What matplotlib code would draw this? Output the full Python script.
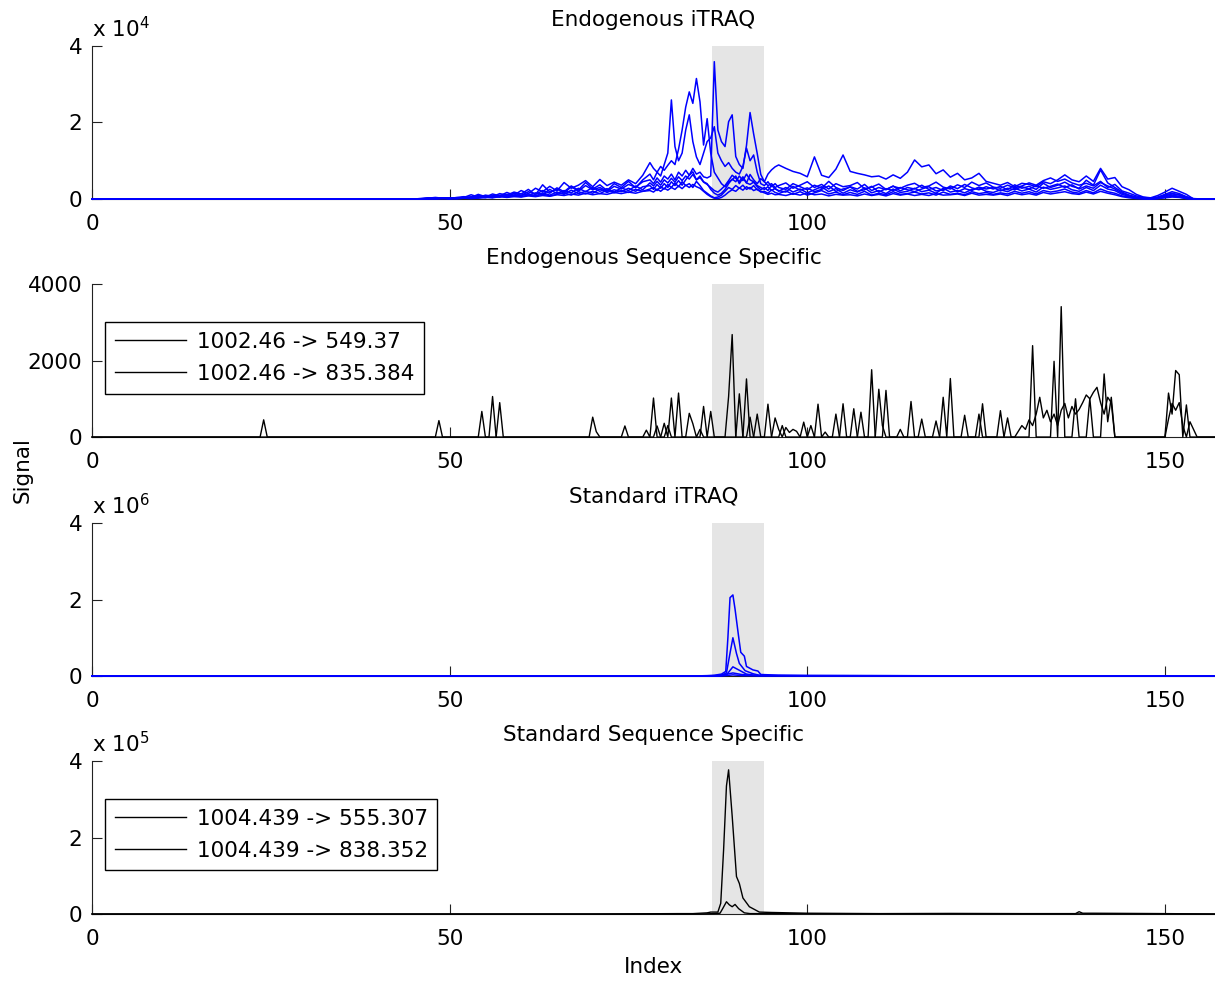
import numpy as np
import matplotlib
matplotlib.use("Agg")
import matplotlib.pyplot as plt

plt.rcParams['font.family'] = ['DejaVu Sans']
plt.rcParams['mathtext.fontset'] = 'dejavusans'

# ---------------- Endogenous iTRAQ reporter channels (signal in thousands) ----------------
# scan index: coarse outside the elution window, half-step inside it
scan_endo = np.concatenate([[0.0], np.arange(44, 78), np.arange(78, 96, 0.5), np.arange(96, 158)])

endo_ch1_k = [0,
    0, 0, 0, 0.2, 0.1, 0.3, 0.1, 0.4, 0.6, 0.3,
    0.9, 0.5, 1.3, 0.8, 1.7, 1.0, 2.2, 1.4, 2.8, 1.9,
    3.3, 2.1, 4.3, 2.8, 3.6, 4.8, 3.2, 5.1, 3.5, 4.4,
    3.6, 5.0, 4.0, 6.2,
    9.5, 8.0, 7.0, 8.5, 7.5, 8.8, 10.0, 9.0, 13.0, 18.0,
    24.0, 28.0, 25.0, 31.5, 25.4, 14.1, 21.0, 12.0, 7.0, 5.5,
    4.0, 3.2, 4.5, 5.0, 6.0, 4.0, 5.5, 4.2, 6.4, 5.0,
    4.0, 5.3, 4.5, 6.5, 7.6, 8.4,
    8.9, 8.0, 7.2, 6.7, 5.8, 11.0, 6.2, 5.6, 7.8, 11.5,
    7.2, 6.7, 6.3, 5.8, 6.0, 5.2, 6.3, 5.4, 7.0, 10.2,
    8.4, 8.9, 6.6, 7.6, 5.7, 6.7, 5.0, 5.5, 6.7, 4.6,
    4.1, 3.6, 4.3, 3.2, 4.1, 3.8, 3.2, 4.5, 4.0, 5.0,
    6.3, 5.0, 4.5, 6.0, 4.6, 8.0, 5.2, 5.6, 3.2, 2.4,
    1.2, 0.5, 0.3, 0.9, 1.8, 2.8, 2.0, 1.2, 0, 0, 0, 0]

endo_ch2_k = [0,
    0, 0, 0.1, 0.3, 0.2, 0.1, 0.3, 0.2, 0.4, 1.1,
    0.5, 0.8, 0.6, 1.4, 1.0, 1.8, 1.3, 2.5, 1.1, 3.7,
    1.8, 2.6, 1.5, 3.2, 2.0, 3.5, 2.4, 3.0, 2.0, 3.3,
    2.6, 3.8, 3.1, 4.5,
    5.0, 4.0, 5.5, 4.4, 6.0, 5.2, 6.5, 5.0, 7.0, 6.0,
    7.5, 6.2, 8.0, 6.5, 7.0, 5.8, 5.5, 6.0, 35.9, 18.0,
    15.0, 13.7, 20.2, 22.0, 11.1, 9.0, 8.0, 14.0, 22.6, 17.0,
    11.9, 6.4, 4.5, 3.5, 4.0, 3.0,
    3.5, 4.2, 2.8, 3.6, 4.5, 3.0, 3.8, 2.6, 4.0, 3.2,
    3.5, 4.3, 2.7, 3.1, 3.9, 2.5, 3.3, 2.8, 3.6, 4.1,
    3.0, 3.4, 4.4, 3.1, 2.6, 3.7, 3.0, 4.4, 3.5, 4.2,
    3.1, 2.8, 3.6, 2.9, 3.4, 4.2, 3.6, 4.8, 5.5, 4.6,
    5.2, 4.2, 3.6, 4.1, 3.4, 4.6, 3.0, 3.8, 2.1, 1.5,
    0.8, 0.4, 0.2, 0.5, 1.2, 1.9, 1.4, 0.6, 0, 0, 0, 0]

endo_ch3_k = [0,
    0, 0, 0, 0.1, 0.2, 0.3, 0.2, 0.1, 0.5, 0.4,
    1.2, 0.6, 0.4, 1.0, 0.7, 1.5, 0.9, 1.9, 1.2, 2.2,
    1.5, 2.9, 1.9, 3.4, 2.3, 4.3, 2.6, 3.7, 2.2, 4.0,
    3.0, 4.6, 2.9, 5.0,
    6.5, 5.0, 7.0, 6.0, 9.0, 12.0, 25.9, 13.7, 10.0, 12.0,
    18.0, 22.0, 15.0, 11.0, 9.0, 12.0, 15.0, 16.0, 18.9, 12.0,
    10.0, 8.5, 9.5, 8.0, 7.0, 6.5, 8.5, 13.3, 10.0, 11.5,
    7.0, 4.0, 3.5, 4.5, 3.2, 4.0,
    3.0, 2.5, 4.0, 3.2, 2.4, 3.6, 2.8, 4.6, 3.0, 2.2,
    3.2, 2.6, 3.8, 2.2, 3.0, 2.4, 3.4, 2.1, 3.0, 2.6,
    3.6, 2.5, 3.0, 2.2, 3.4, 2.7, 3.8, 2.9, 2.4, 3.2,
    2.6, 3.3, 2.4, 3.7, 2.8, 3.3, 2.5, 4.1, 3.0, 3.6,
    4.4, 3.3, 2.8, 4.9, 3.6, 7.6, 4.2, 3.0, 1.8, 1.0,
    0.5, 0.2, 0.1, 0.4, 1.0, 1.5, 1.0, 0.4, 0, 0, 0, 0]

endo_ch4_k = [0,
    0, 0, 0, 0, 0.1, 0.2, 0.1, 0.2, 0.3, 0.2,
    0.6, 0.3, 0.9, 0.5, 1.1, 0.7, 0.9, 1.3, 0.8, 1.6,
    1.0, 1.8, 1.2, 2.3, 1.4, 2.0, 1.5, 2.6, 1.7, 2.4,
    1.9, 2.8, 2.0, 3.2,
    3.5, 2.5, 3.8, 2.8, 4.0, 3.0, 4.5, 3.5, 4.8, 3.6,
    5.0, 6.2, 7.1, 5.0, 6.0, 4.5, 4.0, 2.5, 1.5, 1.0,
    1.5, 2.5, 4.0, 5.2, 4.5, 6.0, 4.8, 6.5, 5.0, 4.5,
    3.5, 3.0, 2.5, 3.2, 2.2, 2.8,
    2.0, 3.0, 1.8, 2.6, 1.6, 2.4, 3.2, 1.9, 2.7, 1.5,
    2.4, 1.8, 2.9, 1.6, 2.2, 1.4, 2.6, 1.7, 2.0, 2.8,
    1.9, 2.3, 1.5, 2.8, 1.8, 2.2, 1.6, 2.5, 2.9, 2.0,
    1.7, 2.4, 1.9, 2.8, 2.1, 2.6, 1.8, 3.1, 2.5, 2.9,
    3.4, 2.4, 2.0, 3.0, 2.2, 3.6, 2.6, 2.2, 1.2, 0.7,
    0.3, 0.1, 0, 0.2, 0.6, 1.0, 0.7, 0.2, 0, 0, 0, 0]

endo_ch5_k = [0,
    0, 0, 0, 0.1, 0, 0.1, 0, 0.1, 0.2, 0.3,
    0.3, 0.5, 0.4, 0.7, 0.5, 0.9, 0.6, 1.0, 0.7, 1.3,
    0.8, 1.2, 1.6, 1.0, 1.9, 1.3, 2.0, 1.4, 2.3, 1.6,
    2.2, 1.7, 2.5, 2.0,
    2.6, 3.0, 2.2, 3.2, 2.6, 3.8, 3.0, 4.2, 3.2, 4.5,
    3.5, 4.0, 3.0, 4.6, 3.5, 2.2, 1.5, 0.8, 0.3, 0.5,
    1.0, 2.0, 3.0, 2.5, 3.5, 2.8, 3.6, 2.5, 3.0, 2.2,
    2.6, 1.8, 2.0, 1.5, 2.4, 1.7,
    1.4, 2.1, 1.2, 1.9, 1.0, 1.6, 2.2, 1.3, 1.8, 1.1,
    1.7, 1.2, 2.0, 1.0, 1.5, 1.1, 1.9, 1.2, 1.4, 1.8,
    1.3, 1.6, 1.0, 1.8, 1.2, 1.5, 1.1, 1.9, 1.4, 1.7,
    1.2, 1.6, 1.3, 2.0, 1.5, 1.9, 1.3, 2.2, 1.8, 2.1,
    2.6, 1.8, 1.5, 2.2, 1.6, 2.6, 1.9, 1.5, 0.8, 0.5,
    0.2, 0.1, 0, 0.1, 0.4, 0.7, 0.5, 0.1, 0, 0, 0, 0]

endo_ch6_k = [0,
    0, 0, 0.1, 0.2, 0.4, 0.2, 0.1, 0.3, 0.2, 0.6,
    0.4, 1.0, 0.7, 0.5, 1.2, 0.8, 1.4, 0.9, 1.6, 1.2,
    2.5, 1.4, 2.2, 1.6, 2.8, 1.9, 3.0, 2.0, 2.7, 1.8,
    2.9, 2.2, 3.4, 2.4,
    4.2, 3.4, 4.6, 3.6, 5.0, 4.2, 5.4, 4.4, 5.8, 4.8,
    6.0, 5.2, 6.4, 5.0, 5.6, 4.4, 3.8, 3.0, 2.2, 1.8,
    2.6, 3.5, 4.8, 6.2, 5.4, 4.6, 5.8, 4.2, 3.8, 4.4,
    3.2, 2.4, 3.0, 2.2, 3.6, 2.6,
    2.2, 1.8, 3.3, 2.3, 2.9, 1.9, 2.5, 3.4, 2.0, 2.6,
    3.1, 2.0, 2.4, 3.3, 1.8, 2.7, 2.2, 3.0, 2.4, 1.9,
    2.6, 3.2, 2.1, 2.4, 3.0, 1.9, 2.7, 2.2, 3.1, 2.6,
    3.0, 2.1, 2.8, 2.4, 3.2, 2.6, 3.5, 2.8, 3.3, 3.9,
    3.0, 3.7, 2.6, 3.4, 2.8, 4.3, 3.4, 2.6, 1.5, 0.9,
    0.4, 0.2, 0.1, 0.3, 0.8, 1.3, 1.1, 0.5, 0.1, 0, 0, 0]

endo_ch7_k = [0,
    0, 0, 0, 0.1, 0.1, 0.2, 0.3, 0.1, 0.2, 0.1,
    0.2, 0.4, 0.3, 0.6, 0.4, 0.6, 0.5, 0.8, 0.6, 0.9,
    0.7, 1.1, 0.9, 1.3, 1.0, 1.5, 1.1, 1.4, 1.2, 1.7,
    1.4, 1.8, 1.5, 2.0,
    2.2, 1.8, 2.6, 2.0, 2.8, 2.3, 3.0, 2.5, 3.4, 2.7,
    3.6, 3.0, 3.8, 3.2, 2.8, 2.0, 1.2, 0.6, 0.2, 0.1,
    0.4, 1.0, 1.8, 2.4, 2.0, 2.9, 2.3, 3.2, 2.6, 3.5,
    2.4, 2.0, 1.6, 1.2, 1.5, 1.1,
    1.2, 0.9, 1.4, 1.0, 1.6, 1.1, 1.3, 0.8, 1.2, 1.0,
    1.1, 0.8, 1.3, 0.9, 1.2, 0.8, 1.4, 1.0, 1.3, 0.9,
    1.2, 0.9, 1.4, 1.0, 1.1, 1.3, 0.9, 1.5, 1.0, 1.2,
    1.0, 1.3, 0.9, 1.5, 1.1, 1.4, 1.0, 1.7, 1.3, 1.6,
    1.9, 1.4, 1.2, 1.8, 1.3, 2.0, 1.5, 1.1, 0.6, 0.3,
    0.1, 0, 0, 0.1, 0.3, 0.5, 0.4, 0.1, 0, 0, 0, 0]

endo_itraq_k = [endo_ch1_k, endo_ch2_k, endo_ch3_k, endo_ch4_k,
                endo_ch5_k, endo_ch6_k, endo_ch7_k]

# ---------------- Endogenous sequence-specific transitions (nonzero samples, 0.5 scan step) ----------------
endo_trans1_scan = [24.0, 48.5, 54.5, 57.0, 70.0, 70.5, 74.5, 77.5, 78.5, 80.0, 81.0, 82.0,
                    85.5, 86.5, 89.0, 89.5, 91.5, 93.0, 94.5, 96.5, 99.5, 101.5, 105.0, 106.5,
                    109.0, 111.0, 114.5, 119.0, 120.0, 122.0, 124.5, 127.0, 131.5, 134.5, 135.5,
                    137.5, 139.5, 141.5, 142.0, 142.5, 150.5, 151.0, 151.5, 152.0, 153.0]
endo_trans1_sig = [450, 430, 670, 900, 520, 140, 290, 180, 1020, 360, 1020, 1150,
                   800, 670, 1060, 2680, 1520, 600, 860, 300, 390, 860, 870, 740,
                   1760, 1220, 930, 1040, 1530, 570, 870, 690, 2390, 1980, 3410,
                   1000, 1010, 1650, 400, 1040, 1150, 600, 1740, 1630, 840]

endo_trans2_scan = [56.0, 79.0, 80.5, 83.5, 84.0, 85.0, 90.5, 92.0, 95.5, 96.0, 97.0, 97.5,
                    98.0, 98.5, 100.5, 102.5, 104.0, 107.5, 110.0, 110.5, 113.0, 116.0, 118.0,
                    124.0, 128.0, 129.5, 130.0, 130.5, 131.0, 131.5, 132.0, 132.5, 133.0, 133.5,
                    134.0, 134.5, 135.0, 135.5, 136.0, 136.5, 137.0, 137.5, 138.0, 138.5, 139.0,
                    139.5, 140.0, 140.5, 141.0, 141.5, 142.0, 142.5, 150.5, 151.0, 151.5, 152.0,
                    152.5, 153.5, 154.0]
endo_trans2_sig = [1060, 290, 300, 620, 350, 200, 1130, 520, 500, 200, 250, 120,
                   200, 150, 300, 130, 600, 650, 1250, 300, 200, 470, 420,
                   600, 500, 150, 300, 200, 450, 300, 600, 1040, 500, 700,
                   400, 600, 300, 700, 880, 500, 800, 600, 720, 900, 1100,
                   1000, 1170, 1300, 900, 600, 1040, 900, 470, 880, 700, 900,
                   300, 400, 200]

# ---------------- Standard iTRAQ reporter channels (signal in millions) ----------------
std_ch1_scan = [0, 84, 86, 87, 88, 88.6, 88.9, 89.2, 89.6, 89.9, 90.4, 90.7, 91.2, 91.5,
                92.4, 93.1, 93.5, 96, 100, 157]
std_ch1_m = [0, 0, 0.01, 0.02, 0.05, 0.12, 1.0, 2.05, 2.12, 1.75, 1.03, 0.62, 0.52, 0.25,
             0.16, 0.13, 0.04, 0.02, 0.01, 0]
std_ch2_scan = [0, 86, 88, 88.7, 89.2, 89.6, 90.1, 90.5, 91.3, 92.4, 93.5, 157]
std_ch2_m = [0, 0, 0.02, 0.08, 0.6, 1.0, 0.59, 0.33, 0.14, 0.06, 0.01, 0]
std_ch3_scan = [0, 87, 88.7, 89.6, 90.4, 91.5, 93, 157]
std_ch3_m = [0, 0, 0.03, 0.24, 0.16, 0.05, 0.01, 0]
std_ch4_scan = [0, 87.5, 89.6, 90.8, 92.5, 157]
std_ch4_m = [0, 0, 0.08, 0.04, 0.01, 0]
std_ch5_scan = [0, 88, 89.6, 91, 157]
std_ch5_m = [0, 0, 0.03, 0.01, 0]

# ---------------- Standard sequence-specific transitions (signal in 1e5) ----------------
std_trans1_scan = [0, 70, 82, 84, 86, 86.5, 87.5, 87.9, 88.3, 88.7, 89.0, 89.5, 90.1, 90.5,
                   91.0, 91.9, 92.6, 93.3, 95, 100, 110, 120, 130, 137.5, 138, 138.5, 140,
                   150, 157]
std_trans1_e5 = [0, 0, 0.01, 0.01, 0.03, 0.05, 0.05, 0.28, 1.68, 3.35, 3.77, 2.56, 0.98, 0.8,
                 0.42, 0.19, 0.12, 0.05, 0.04, 0.02, 0.01, 0.015, 0.01, 0.01, 0.06, 0.02, 0.02,
                 0.01, 0]
std_trans2_scan = [0, 85, 87, 87.8, 88.2, 88.7, 89.1, 89.5, 89.9, 90.4, 91.2, 92, 157]
std_trans2_e5 = [0, 0, 0.01, 0.02, 0.15, 0.32, 0.24, 0.19, 0.25, 0.14, 0.03, 0.01, 0]

panel_titles = ["Endogenous iTRAQ", "Endogenous Sequence Specific",
                "Standard iTRAQ", "Standard Sequence Specific"]
endo_labels = ["1002.46 -> 549.37", "1002.46 -> 835.384"]
std_labels = ["1004.439 -> 555.307", "1004.439 -> 838.352"]
window = (86.7, 94.0)
x_max = 157

FS = 15.5
fig = plt.figure(figsize=(12.15, 9.83), dpi=100)
left, width, height = 92 / 1215, 1 - 92 / 1215, 0.1556
bottoms = [0.7976, 0.5554, 0.3123, 0.0702]
axes = [fig.add_axes([left, b, width, height]) for b in bottoms]


def style(ax, yticks, ylabels, exponent=None):
    ax.set_xlim(0, x_max)
    ax.set_ylim(yticks[0], yticks[-1])
    ax.axvspan(window[0], window[1], color='#e5e5e5', zorder=0, lw=0)
    ax.spines['top'].set_visible(False)
    ax.spines['right'].set_visible(False)
    for s in ('left', 'bottom'):
        ax.spines[s].set_linewidth(0.8)
        ax.spines[s].set_color('#222222')
    ax.set_xticks([0, 50, 100, 150])
    ax.set_yticks(yticks)
    ax.set_yticklabels(ylabels)
    ax.tick_params(direction='in', length=7, width=0.8, labelsize=FS,
                   top=False, right=False, colors='#222222', labelcolor='black')
    ax.tick_params(axis='x', pad=10.5)
    ax.tick_params(axis='y', pad=7)
    if exponent is not None:
        ax.text(0, 1.03, r'x 10$^{%d}$' % exponent, transform=ax.transAxes,
                ha='left', va='bottom', fontsize=FS)


# Panel 1: endogenous reporter ions
ax = axes[0]
for ch in endo_itraq_k:
    ax.plot(scan_endo, np.asarray(ch) * 1e3, color='#0000ff', lw=1.1, zorder=3, clip_on=False)
style(ax, [0, 2e4, 4e4], ['0', '2', '4'], exponent=4)

# Panel 2: endogenous transitions, sampled every half scan
ax = axes[1]
grid = np.arange(0, x_max + 0.25, 0.5)
for scans, sig, lab in [(endo_trans1_scan, endo_trans1_sig, endo_labels[0]),
                        (endo_trans2_scan, endo_trans2_sig, endo_labels[1])]:
    trace = np.zeros_like(grid)
    trace[np.round(np.asarray(scans) * 2).astype(int)] = sig
    ax.plot(grid, trace, color='black', lw=1.0, zorder=3, clip_on=False, label=lab)
style(ax, [0, 2000, 4000], ['0', '2000', '4000'])
leg_kw = dict(loc='upper left', bbox_to_anchor=(0.0116, 0.75), fontsize=FS, frameon=True,
              fancybox=False, edgecolor='black', framealpha=1, borderaxespad=0,
              handlelength=3.3, handletextpad=0.5, borderpad=0.45, labelspacing=0.55)
lg = ax.legend(**leg_kw)
lg.get_frame().set_linewidth(1.0)

# Panel 3: standard reporter ions
ax = axes[2]
for xs, ys in [(std_ch1_scan, std_ch1_m), (std_ch2_scan, std_ch2_m), (std_ch3_scan, std_ch3_m),
               (std_ch4_scan, std_ch4_m), (std_ch5_scan, std_ch5_m)]:
    ax.plot(xs, np.asarray(ys) * 1e6, color='#0000ff', lw=1.1, zorder=3, clip_on=False)
style(ax, [0, 2e6, 4e6], ['0', '2', '4'], exponent=6)

# Panel 4: standard transitions
ax = axes[3]
for xs, ys, lab in [(std_trans1_scan, std_trans1_e5, std_labels[0]),
                    (std_trans2_scan, std_trans2_e5, std_labels[1])]:
    ax.plot(xs, np.asarray(ys) * 1e5, color='black', lw=1.0, zorder=3, clip_on=False, label=lab)
style(ax, [0, 2e5, 4e5], ['0', '2', '4'], exponent=5)
lg = ax.legend(**leg_kw)
lg.get_frame().set_linewidth(1.0)

for ax, t in zip(axes, panel_titles):
    ax.set_title(t, fontsize=FS, pad=14.5)

fig.text(0.019, 0.522, 'Signal', rotation=90, ha='center', va='center', fontsize=FS)
fig.text(left + width / 2, 0.0163, 'Index', ha='center', va='center', fontsize=FS)

fig.savefig('out.png', dpi=100)
